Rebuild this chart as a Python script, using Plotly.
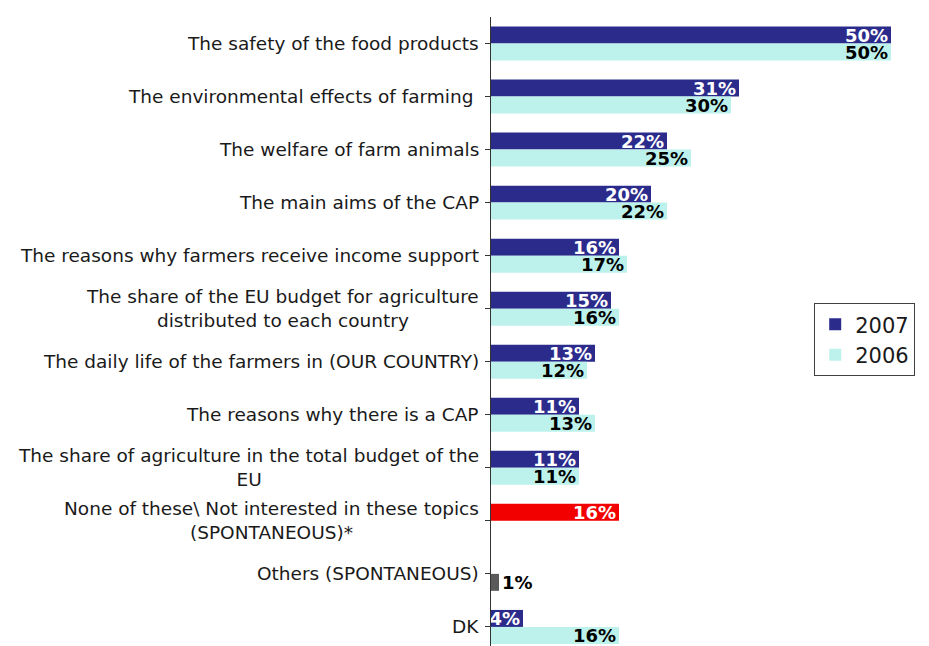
import plotly.graph_objects as go

categories = [
    "The safety of the food products",
    "The environmental effects of farming ",
    "The welfare of farm animals",
    "The main aims of the CAP",
    "The reasons why farmers receive income support",
    "The share of the EU budget for agriculture<br>distributed to each country",
    "The daily life of the farmers in (OUR COUNTRY)",
    "The reasons why there is a CAP",
    "The share of agriculture in the total budget of the<br>EU",
    "None of these\\ Not interested in these topics<br>(SPONTANEOUS)*",
    "Others (SPONTANEOUS)",
    "DK",
]
values_2007 = [50, 31, 22, 20, 16, 15, 13, 11, 11, 16, None, 4]
values_2006 = [50, 30, 25, 22, 17, 16, 12, 13, 11, None, 1, 16]

NAVY = "#2b2b8c"
CYAN = "#bdf2ec"
RED = "#f20000"
GREY = "#5a5a5a"

cat_ids = list(range(len(categories)))

colors_2007 = [RED if c.startswith("None") else NAVY for c in categories]
colors_2006 = [GREY if c.startswith("Others") else CYAN for c in categories]
pos_2006 = ["outside" if (v is not None and v < 3) else "inside" for v in values_2006]

fig = go.Figure()
fig.add_trace(go.Bar(
    y=cat_ids, x=values_2007, orientation="h", name="2007",
    marker=dict(color=colors_2007, line=dict(width=0)),
    text=[f"{v}%" if v is not None else "" for v in values_2007],
    textposition="inside", insidetextanchor="end",
    textfont=dict(family="DejaVu Sans", size=18, color="white", weight="bold"),
    cliponaxis=False,
))
fig.add_trace(go.Bar(
    y=cat_ids, x=values_2006, orientation="h", name="2006",
    marker=dict(color=colors_2006, line=dict(width=0)),
    text=[f"{v}%" if v is not None else "" for v in values_2006],
    textposition=pos_2006, insidetextanchor="end",
    textfont=dict(family="DejaVu Sans", size=18, color="black", weight="bold"),
    cliponaxis=False,
))

# category labels, centred multi-line like the original
for i, c in enumerate(categories):
    fig.add_annotation(
        x=0, xref="paper", y=i, yref="y", text=c, showarrow=False,
        xanchor="right", yanchor="middle", align="center", xshift=-10,
        font=dict(family="DejaVu Sans", size=18.5, color="#1a1a1a"),
    )

# page body adds an 8px offset, so the figure is 8px smaller than the window
fig.update_layout(
    width=921, height=638,
    margin=dict(l=483, r=34, t=9, b=0),
    barmode="group", bargap=0.36, bargroupgap=0,
    plot_bgcolor="white", paper_bgcolor="white",
    uniformtext=dict(minsize=18, mode="show"),
    legend=dict(
        x=0.80, y=0.545, xanchor="left", yanchor="top",
        bordercolor="#404040", borderwidth=1, bgcolor="white",
        font=dict(family="DejaVu Sans", size=21, color="#1a1a1a"),
        traceorder="normal", itemwidth=30,
    ),
    showlegend=True,
)
fig.update_xaxes(range=[0, 50.5], visible=False, fixedrange=True)
fig.update_yaxes(
    range=[11.36, -0.5], tickmode="array", tickvals=cat_ids,
    showticklabels=False, ticks="outside", ticklen=5, tickson="boundaries",
    tickcolor="#333333", showline=True, linecolor="#333333", linewidth=1,
    showgrid=False, zeroline=False, fixedrange=True,
)

fig.write_html("out.html")
